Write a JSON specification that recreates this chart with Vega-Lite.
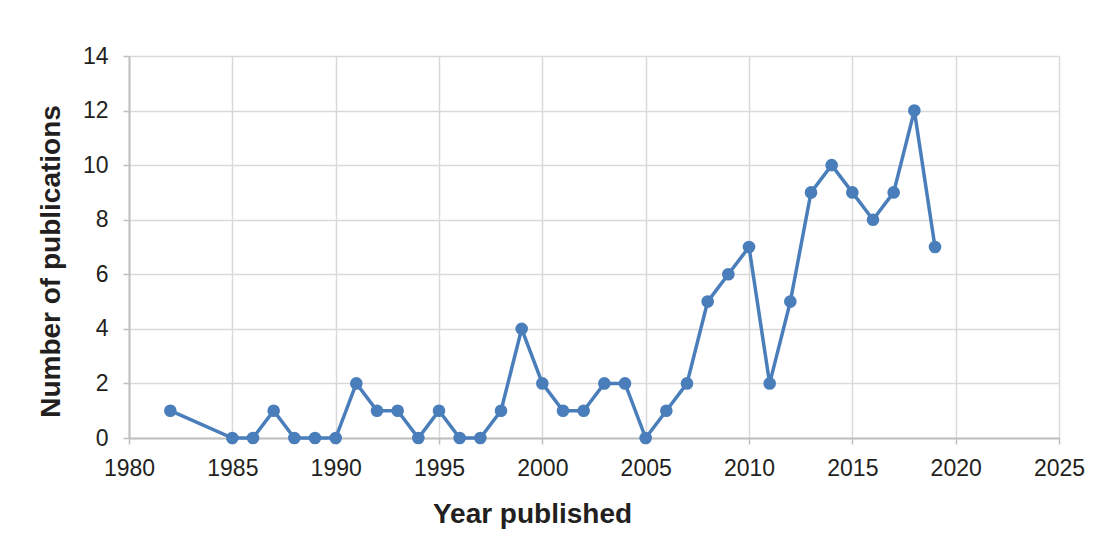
{
  "$schema": "https://vega.github.io/schema/vega-lite/v6.json",
  "autosize": {"type": "none"},
  "padding": {"left": 129, "top": 56, "right": 36, "bottom": 100},
  "width": 930,
  "height": 382,
  "background": "white",
  "config": {
    "font": "Liberation Sans",
    "view": {"stroke": null}
  },
  "data": {
    "values": [
      {"year": 1982, "n": 1}, {"year": 1985, "n": 0}, {"year": 1986, "n": 0},
      {"year": 1987, "n": 1}, {"year": 1988, "n": 0}, {"year": 1989, "n": 0},
      {"year": 1990, "n": 0}, {"year": 1991, "n": 2}, {"year": 1992, "n": 1},
      {"year": 1993, "n": 1}, {"year": 1994, "n": 0}, {"year": 1995, "n": 1},
      {"year": 1996, "n": 0}, {"year": 1997, "n": 0}, {"year": 1998, "n": 1},
      {"year": 1999, "n": 4}, {"year": 2000, "n": 2}, {"year": 2001, "n": 1},
      {"year": 2002, "n": 1}, {"year": 2003, "n": 2}, {"year": 2004, "n": 2},
      {"year": 2005, "n": 0}, {"year": 2006, "n": 1}, {"year": 2007, "n": 2},
      {"year": 2008, "n": 5}, {"year": 2009, "n": 6}, {"year": 2010, "n": 7},
      {"year": 2011, "n": 2}, {"year": 2012, "n": 5}, {"year": 2013, "n": 9},
      {"year": 2014, "n": 10}, {"year": 2015, "n": 9}, {"year": 2016, "n": 8},
      {"year": 2017, "n": 9}, {"year": 2018, "n": 12}, {"year": 2019, "n": 7}
    ]
  },
  "encoding": {
    "x": {
      "field": "year", "type": "quantitative",
      "scale": {"domain": [1980, 2025], "nice": false, "zero": false},
      "axis": {
        "values": [1980, 1985, 1990, 1995, 2000, 2005, 2010, 2015, 2020, 2025],
        "format": "d", "title": "Year published",
        "labelFont": "Liberation Sans", "labelFontSize": 23, "labelColor": "#231f20", "labelPadding": 13, "labelFlush": false,
        "titleFont": "Liberation Sans", "titleFontSize": 28, "titleFontWeight": "bold", "titleColor": "#231f20",
        "titleX": 403, "titleY": 84, "titleBaseline": "alphabetic", "titleAlign": "center",
        "gridColor": "#d9d9d9", "gridWidth": 1.5,
        "domainColor": "#bfbfbf", "domainWidth": 2,
        "tickColor": "#bfbfbf", "tickWidth": 1.5, "tickSize": 6
      }
    },
    "y": {
      "field": "n", "type": "quantitative",
      "scale": {"domain": [0, 14], "nice": false},
      "axis": {
        "values": [0, 2, 4, 6, 8, 10, 12, 14], "title": "Number of publications",
        "labelFont": "Liberation Sans", "labelFontSize": 23, "labelColor": "#231f20", "labelPadding": 15,
        "titleFont": "Liberation Sans", "titleFontSize": 28, "titleFontWeight": "bold", "titleColor": "#231f20",
        "titleX": -70, "titleY": 205, "titleAlign": "center", "titleBaseline": "alphabetic",
        "gridColor": "#d9d9d9", "gridWidth": 1.5,
        "domainColor": "#bfbfbf", "domainWidth": 2,
        "tickColor": "#bfbfbf", "tickWidth": 1.5, "tickSize": 6
      }
    }
  },
  "layer": [
    {"mark": {"type": "line", "color": "#4a7ebb", "strokeWidth": 3.5}},
    {"mark": {"type": "point", "filled": true, "opacity": 1, "color": "#4a7ebb", "size": 160}}
  ]
}
